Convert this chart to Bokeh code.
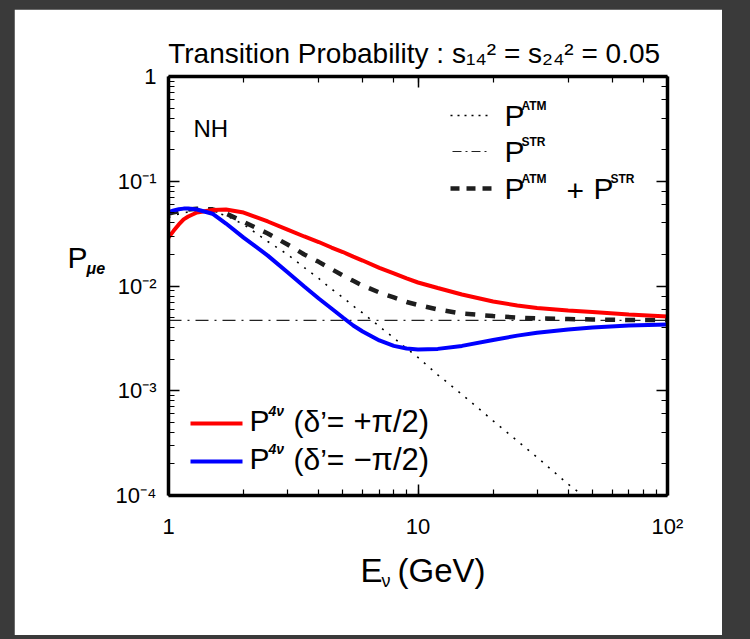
from bokeh.plotting import figure
from bokeh.models import Label, LogAxis, LogTicker, CustomJSTickFormatter, Range1d
from bokeh.embed import file_html
from bokeh.resources import INLINE

# ---- data ----
energy = [1, 1.05, 1.1, 1.15, 1.2, 1.3, 1.5, 1.7, 2, 2.5, 3, 3.5, 4, 4.5, 5, 5.5,
          6, 7, 8, 9, 10, 12, 15, 20, 25, 30, 40, 50, 70, 100]
p_plus = [0.0290, 0.0338, 0.0387, 0.0433, 0.0461, 0.0503, 0.0532, 0.0537, 0.0503,
          0.0413, 0.0346, 0.0297, 0.0263, 0.0233, 0.0211, 0.0191, 0.0175, 0.0149,
          0.0132, 0.0118, 0.0108, 0.00957, 0.00830, 0.00711, 0.00651, 0.00617,
          0.00583, 0.00565, 0.00535, 0.00512]
p_minus = [0.0507, 0.0527, 0.0541, 0.0548, 0.0549, 0.0537, 0.0490, 0.0395, 0.0290,
           0.0195, 0.0135, 0.00989, 0.00760, 0.00610, 0.00500, 0.00420, 0.00368,
           0.00302, 0.00268, 0.00253, 0.00248, 0.00251, 0.00268, 0.00305, 0.00336,
           0.00358, 0.00384, 0.00402, 0.00420, 0.00429]
p_sum = [0.0492, 0.0505, 0.0517, 0.0528, 0.0537, 0.0546, 0.0540, 0.0492, 0.0410,
         0.0317, 0.0249, 0.0200, 0.0170, 0.0145, 0.0126, 0.0112, 0.0101, 0.00867,
         0.00777, 0.00704, 0.00659, 0.00597, 0.00546, 0.00517, 0.00500, 0.00490,
         0.00484, 0.00479, 0.00474, 0.00472]
p_atm = [0.0451, 0.0471, 0.0488, 0.0500, 0.0509, 0.0518, 0.0512, 0.0471, 0.0387,
         0.0266, 0.0200, 0.0150, 0.0118, 0.00936, 0.00777, 0.00644, 0.00553, 0.00411,
         0.00319, 0.00253, 0.00208, 0.00142, 0.000924, 0.000517, 0.000333, 0.000232,
         0.000128, 0.0000850, 0.0000440, 0.0000220]
p_str = 0.0047

FONT = "Liberation Sans"

p = figure(frame_width=499, frame_height=419,
           x_axis_type="log", y_axis_type="log",
           x_range=Range1d(1, 100), y_range=Range1d(1e-4, 1),
           output_backend="svg", toolbar_location=None,
           min_border_left=154, min_border_right=55,
           min_border_top=67, min_border_bottom=138,
           border_fill_color="white", background_fill_color="white",
           outline_line_color=None)
p.margin = (9, 0, 0, 14)

p.title.text = "Transition  Probability : s\u2081\u2084\u00b2 = s\u2082\u2084\u00b2 = 0.05"
p.title.align = "center"
p.title.text_font = FONT
p.title.text_font_size = "28px"
p.title.text_font_style = "normal"
p.title.text_color = "black"
p.title.standoff = 15

p.xgrid.visible = False
p.ygrid.visible = False

fmt_code = r"""
const e = Math.round(Math.log10(tick));
const sup = {"-": "\u207b", "0": "\u2070", "1": "\u00b9", "2": "\u00b2", "3": "\u00b3", "4": "\u2074"};
if (e === 0) return "1";
if (e === 1) return "10";
return "10" + String(e).split("").map(c => sup[c]).join("");
"""
bottom = p.xaxis[0]
left = p.yaxis[0]
bottom.formatter = CustomJSTickFormatter(code=fmt_code)
left.formatter = CustomJSTickFormatter(code=fmt_code)

top = LogAxis(ticker=LogTicker(), formatter=CustomJSTickFormatter(code="return '';"))
right = LogAxis(ticker=LogTicker(), formatter=CustomJSTickFormatter(code="return '';"))
p.add_layout(top, "above")
p.add_layout(right, "right")

for ax in [bottom, left, top, right]:
    ax.axis_line_width = 3.5
    ax.axis_line_color = "black"
    ax.major_tick_in = 11
    ax.major_tick_out = 0
    ax.minor_tick_in = 6
    ax.minor_tick_out = 0
    ax.major_tick_line_width = 1.5
    ax.minor_tick_line_width = 1.2
    ax.major_tick_line_color = "black"
    ax.minor_tick_line_color = "black"
    ax.major_label_text_font = FONT
    ax.major_label_text_font_size = "22px"
    ax.major_label_text_color = "black"
bottom.major_label_standoff = 18
left.major_label_standoff = 12

# ---- curves ----
p.line(energy, p_atm, line_color="black", line_width=1.6, line_dash="2 7")
p.line(energy, [p_str] * len(energy), line_color="#222222", line_width=1.1,
       line_dash="13 6 2 6")
p.line(energy, p_sum, line_color="#1e1e1e", line_width=4.5, line_dash="10 10")
p.line(energy, p_plus, line_color="#ff0000", line_width=4)
p.line(energy, p_minus, line_color="#0000ff", line_width=4)


# ---- annotations (positions given in reference-pixel coordinates) ----
def px(x, y):
    return 10 ** ((x - 168) / 249.5), 10 ** (-(y - 76) / 104.75)


def text(s, x, y, size, style="normal", place="center"):
    xd, yd = px(x, y)
    lab = Label(x=xd, y=yd, text=s, text_font=FONT,
                text_font_size=f"{size}px", text_font_style=style,
                text_align="left", text_baseline="middle", text_color="black")
    p.add_layout(lab, place)


def seg(x0, x1, y, **kw):
    a, b = px(x0, y)
    c, d = px(x1, y)
    p.line([a, c], [b, d], **kw)


text("NH", 193, 128, 24)

# top-right legend
seg(450, 488, 115, line_color="black", line_width=1.6, line_dash="2 5")
text("P", 504, 115, 30)
text("ATM", 521, 105, 12, "bold")
seg(452, 488, 151, line_color="#222222", line_width=1.1, line_dash="9 4 2 4")
text("P", 504, 151, 30)
text("STR", 521, 141, 12, "bold")
seg(450, 492, 188, line_color="#1e1e1e", line_width=4.5, line_dash="9 7")
text("P", 504, 188, 30)
text("ATM", 521, 178, 12, "bold")
text("+", 566, 190, 30)
text("P", 593, 188, 30)
text("STR", 610, 178, 12, "bold")

# bottom-left legend
seg(190, 242, 423, line_color="#ff0000", line_width=4)
text("P", 249, 420, 30)
text("4\u03bd", 268, 410, 14, "bold italic")
text("(\u03b4\u2019=", 293, 421, 30)
text("+\u03c0/2)", 353, 421, 31)
seg(190, 242, 461, line_color="#0000ff", line_width=4)
text("P", 249, 458, 30)
text("4\u03bd", 268, 448, 14, "bold italic")
text("(\u03b4\u2019=", 293, 459, 30)
text("\u2212\u03c0/2)", 353, 459, 31)

# axis titles (outside the frame, placed in the side panels)
text("P", 67, 257, 30, place="left")
text("\u03bce", 86, 268, 16, "bold italic", place="left")
text("E", 360, 570, 33, place="below")
text("\u03bd", 381, 580, 18, place="below")
text("(GeV)", 397, 570, 33, place="below")

html = file_html(p, INLINE)
html = html.replace("</head>",
                    "<style>html, body {margin: 0; background-color: #3a3a3a;}</style></head>", 1)
open("out.html", "w").write(html)
